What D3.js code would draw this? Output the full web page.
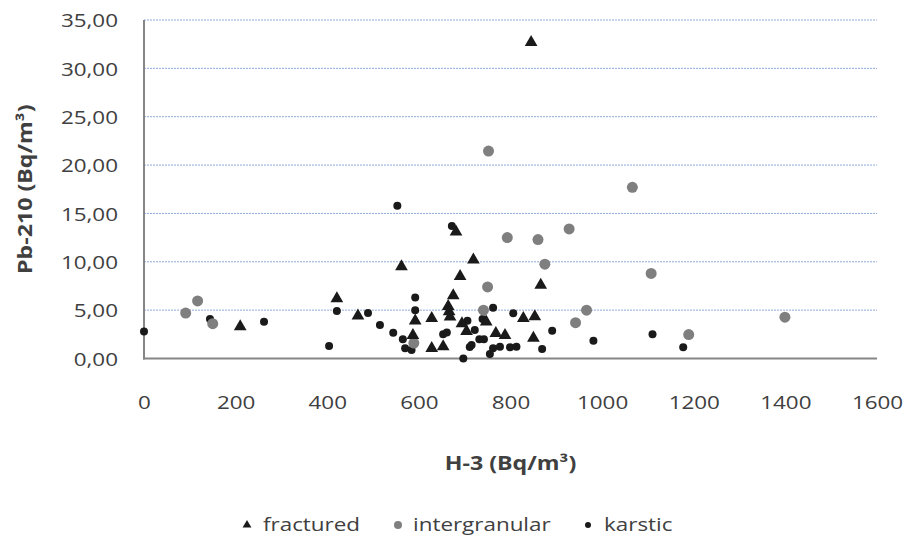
<!DOCTYPE html>
<html>
<head>
<meta charset="utf-8">
<script src="https://cdn.jsdelivr.net/npm/d3@7/dist/d3.min.js"></script>
<style>
  html, body { margin: 0; padding: 0; background: #ffffff; }
  svg { display: block; }
  text { font-family: "Open Sans", "Liberation Sans", sans-serif; fill: #404040; }
</style>
</head>
<body>
<svg id="chart" width="910" height="547"></svg>
<script>
// ---------- data ----------
const fracturedX = [210, 421, 467, 562, 587, 592, 628, 628, 653, 664, 666, 668, 675, 681, 690, 694, 704, 719, 747, 768, 788, 828, 845, 850, 853, 866];
const fracturedY = [3.3, 6.2, 4.4, 9.5, 2.4, 3.9, 4.16, 1.06, 1.22, 5.4, 4.85, 4.3, 6.5, 13.1, 8.5, 3.6, 2.8, 10.2, 3.8, 2.6, 2.4, 4.16, 32.7, 2.1, 4.33, 7.6];

const intergranularX = [91, 117, 150, 589, 741, 750, 752, 793, 860, 875, 928, 942, 966, 1066, 1107, 1189, 1399];
const intergranularY = [4.7, 5.95, 3.6, 1.6, 5.0, 7.4, 21.45, 12.5, 12.3, 9.75, 13.4, 3.7, 5.0, 17.7, 8.8, 2.47, 4.27];

const karsticX = [0, 144, 262, 404, 421, 489, 515, 544, 553, 565, 570, 584, 592, 592, 653, 661, 672, 697, 706, 711, 715, 722, 732, 739, 742, 755, 762, 762, 777, 799, 806, 813, 869, 891, 981, 1110, 1177];
const karsticY = [2.78, 4.09, 3.81, 1.3, 4.92, 4.71, 3.46, 2.67, 15.8, 1.99, 1.06, 0.88, 6.3, 5.0, 2.5, 2.7, 13.7, 0.0, 3.9, 1.2, 1.4, 2.95, 1.99, 4.09, 1.99, 0.47, 1.06, 5.26, 1.22, 1.16, 4.68, 1.22, 0.98, 2.88, 1.84, 2.5, 1.16];

const xTicks = [0, 200, 400, 600, 800, 1000, 1200, 1400, 1600];
const yTicks = [0, 5, 10, 15, 20, 25, 30, 35];
const seriesNames = ["fractured", "intergranular", "karstic"];
const xTitle = "H-3 (Bq/m³)";
const yTitle = "Pb-210 (Bq/m³)";

// ---------- layout ----------
const svg = d3.select("#chart");
const SX = 1.18; // horizontal glyph stretch of the original
const x = d3.scaleLinear().domain([0, 1600]).range([144, 877]);
const y = d3.scaleLinear().domain([0, 35]).range([358.5, 20]);

// gridlines
svg.append("g").selectAll("line")
  .data(yTicks.filter(d => d > 0))
  .join("line")
  .attr("x1", x(0)).attr("x2", x(1600))
  .attr("y1", d => y(d)).attr("y2", d => y(d))
  .attr("stroke", "#8eaadb").attr("stroke-width", 1)
  .attr("stroke-dasharray", "2,1");

// axis lines
svg.append("line").attr("x1", x(0)).attr("x2", x(0)).attr("y1", y(35)).attr("y2", y(0) + 1)
  .attr("stroke", "#868686").attr("stroke-width", 2);
svg.append("line").attr("x1", x(0) - 1).attr("x2", x(1600)).attr("y1", y(0)).attr("y2", y(0))
  .attr("stroke", "#868686").attr("stroke-width", 2);

// y axis labels
const yAxis = d3.axisLeft(y).tickValues(yTicks)
  .tickFormat(d => d.toFixed(2).replace(".", ","))
  .tickSize(0).tickPadding(0);
const gy = svg.append("g").attr("transform", "translate(118,0)").call(yAxis);
gy.select(".domain").remove();
gy.selectAll("text").attr("transform", `scale(${SX},1)`).attr("x", 0).attr("dy", "0.36em")
  .style("font-size", "19px").style("fill", "#404040")
  .style("font-family", "'Open Sans', sans-serif");

// x axis labels
const xAxis = d3.axisBottom(x).tickValues(xTicks).tickFormat(d3.format("d"))
  .tickSize(0).tickPadding(0);
const gx = svg.append("g").attr("transform", "translate(0,402)").call(xAxis);
gx.select(".domain").remove();
gx.selectAll("text").attr("transform", `scale(${SX},1)`).attr("y", 0).attr("dy", "0.36em")
  .style("font-size", "19px").style("fill", "#404040")
  .style("font-family", "'Open Sans', sans-serif");

// axis titles
svg.append("text").text(xTitle)
  .attr("transform", `translate(${(x(0) + x(1600)) / 2},463) scale(1.22,1)`)
  .attr("text-anchor", "middle").attr("dy", "0.36em")
  .style("font-size", "19px").style("font-weight", "bold");
svg.append("text").text(yTitle)
  .attr("transform", `translate(25,${(y(0) + y(35)) / 2}) rotate(-90) scale(1.22,1)`)
  .attr("text-anchor", "middle").attr("dy", "0.36em")
  .style("font-size", "19px").style("font-weight", "bold");

// ---------- marks ----------
const tri = d3.symbol().type(d3.symbolTriangle).size(70);
const triSmall = d3.symbol().type(d3.symbolTriangle).size(34);

svg.append("g").selectAll("circle")
  .data(karsticX.map((v, i) => [v, karsticY[i]]))
  .join("circle")
  .attr("cx", d => x(d[0])).attr("cy", d => y(d[1])).attr("r", 4)
  .attr("fill", "#1a1a1a");

svg.append("g").selectAll("circle")
  .data(intergranularX.map((v, i) => [v, intergranularY[i]]))
  .join("circle")
  .attr("cx", d => x(d[0])).attr("cy", d => y(d[1])).attr("r", 5.5)
  .attr("fill", "#7f7f7f");

svg.append("g").selectAll("path")
  .data(fracturedX.map((v, i) => [v, fracturedY[i]]))
  .join("path")
  .attr("d", tri)
  .attr("transform", d => `translate(${x(d[0])},${y(d[1])})`)
  .attr("fill", "#1a1a1a");

// ---------- legend ----------
const legendY = 525;
const leg = svg.append("g");
leg.append("path").attr("d", triSmall).attr("transform", `translate(247,${legendY})`).attr("fill", "#1a1a1a");
leg.append("circle").attr("cx", 398).attr("cy", legendY).attr("r", 4).attr("fill", "#7f7f7f");
leg.append("circle").attr("cx", 588).attr("cy", legendY).attr("r", 3).attr("fill", "#1a1a1a");
const legX = [263, 413, 604];
seriesNames.forEach((n, i) => {
  leg.append("text").text(n)
    .attr("transform", `translate(${legX[i]},${legendY}) scale(${SX},1)`)
    .attr("dy", "0.34em")
    .style("font-size", "19px");
});
</script>
</body>
</html>
